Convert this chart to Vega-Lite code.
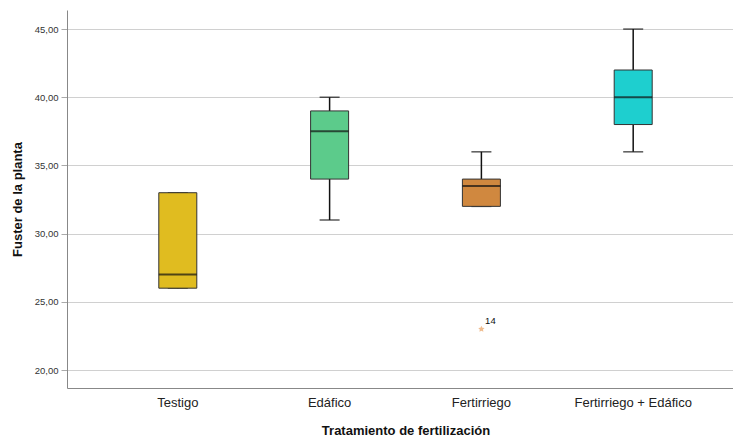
{
  "$schema": "https://vega.github.io/schema/vega-lite/v6.json",
  "autosize": "none",
  "padding": {"left": 67, "top": 10, "right": 0, "bottom": 52},
  "width": 666,
  "height": 378,
  "background": "white",
  "config": {
    "view": {"stroke": null},
    "font": "Liberation Sans"
  },
  "datasets": {
    "boxes": [
      {"tratamiento": "Testigo", "min": 26, "q1": 26, "median": 27, "q3": 33, "max": 33},
      {"tratamiento": "Edáfico", "min": 31, "q1": 34, "median": 37.5, "q3": 39, "max": 40},
      {"tratamiento": "Fertirriego", "min": 32, "q1": 32, "median": 33.5, "q3": 34, "max": 36},
      {"tratamiento": "Fertirriego + Edáfico", "min": 36, "q1": 38, "median": 40, "q3": 42, "max": 45}
    ],
    "outliers": [
      {"tratamiento": "Fertirriego", "valor": 23, "caso": "14"}
    ]
  },
  "data": {"name": "boxes"},
  "encoding": {
    "x": {
      "field": "tratamiento",
      "type": "nominal",
      "sort": ["Testigo", "Edáfico", "Fertirriego", "Fertirriego + Edáfico"],
      "scale": {"range": [0, 677], "paddingInner": 0, "paddingOuter": 0.23},
      "axis": {
        "title": "Tratamiento de fertilización",
        "titleFontSize": 13,
        "titleFontWeight": "bold",
        "titleColor": "#111",
        "titlePadding": 15,
        "labelAngle": 0,
        "labelFontSize": 13,
        "labelColor": "#222",
        "labelPadding": 8,
        "ticks": false,
        "domainColor": "#888",
        "domainWidth": 1,
        "grid": false
      }
    }
  },
  "layer": [
    {
      "mark": {"type": "rule", "color": "#111", "strokeWidth": 1.5},
      "encoding": {
        "y": {
          "field": "min",
          "type": "quantitative",
          "scale": {"domain": [18.68, 46.4], "nice": false, "zero": false},
          "axis": {
            "title": "Fuster de la planta",
            "titleFontSize": 13,
            "titleFontWeight": "bold",
            "titleColor": "#111",
            "titlePadding": 10,
            "values": [20, 25, 30, 35, 40, 45],
            "labelExpr": "replace(format(datum.value, '.2f'), '.', ',')",
            "labelFontSize": 9.5,
            "labelColor": "#333",
            "labelPadding": 3,
            "tickSize": 6,
            "tickColor": "#aaa",
            "domainColor": "#888",
            "gridColor": "#d0d0d0",
            "gridWidth": 1
          }
        },
        "y2": {"field": "max"}
      }
    },
    {
      "mark": {"type": "tick", "color": "#111", "size": 20, "thickness": 1.5},
      "encoding": {"y": {"field": "min", "type": "quantitative"}}
    },
    {
      "mark": {"type": "tick", "color": "#111", "size": 20, "thickness": 1.5},
      "encoding": {"y": {"field": "max", "type": "quantitative"}}
    },
    {
      "mark": {"type": "bar", "size": 38, "stroke": "#333", "strokeWidth": 1},
      "encoding": {
        "y": {"field": "q1", "type": "quantitative"},
        "y2": {"field": "q3"},
        "color": {
          "field": "tratamiento",
          "type": "nominal",
          "scale": {
            "domain": ["Testigo", "Edáfico", "Fertirriego", "Fertirriego + Edáfico"],
            "range": ["#E0BC20", "#5CCB8B", "#D0883F", "#1ECFCF"]
          },
          "legend": null
        }
      }
    },
    {
      "mark": {"type": "tick", "color": "#111", "size": 38, "thickness": 2},
      "encoding": {"y": {"field": "median", "type": "quantitative"}}
    },
    {
      "data": {"name": "outliers"},
      "mark": {
        "type": "point",
        "shape": "M0,-1L0.29,-0.4L0.95,-0.31L0.47,0.15L0.59,0.81L0,0.5L-0.59,0.81L-0.47,0.15L-0.95,-0.31L-0.29,-0.4Z",
        "filled": true,
        "fill": "#E8A060",
        "stroke": null,
        "size": 45
      },
      "encoding": {"y": {"field": "valor", "type": "quantitative"}}
    },
    {
      "data": {"name": "outliers"},
      "mark": {"type": "text", "fontSize": 9.5, "fill": "#111", "dx": 9, "dy": -8},
      "encoding": {
        "y": {"field": "valor", "type": "quantitative"},
        "text": {"field": "caso"}
      }
    }
  ]
}
